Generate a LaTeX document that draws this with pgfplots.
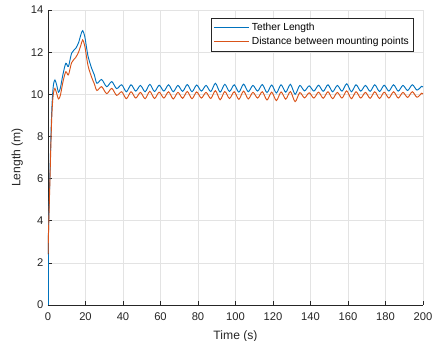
\documentclass[border=0pt]{standalone}
\usepackage{fontspec}
\setmainfont{Liberation Sans}
\usepackage{pgfplots}
\usepackage{pgfplotstable}
\pgfplotsset{compat=1.18}
\definecolor{mblue}{rgb}{0,0.447,0.741}
\definecolor{morange}{rgb}{0.85,0.325,0.098}
\definecolor{axgray}{rgb}{0.15,0.15,0.15}
\pgfplotstableread{
t b r
0 2.4 2.4
0.5 4.4 4.2
1.0 6.1 5.8
1.5 7.8 7.5
2.0 9.2 8.9
2.5 10.05 9.7
3.0 10.5 10.1
3.7 10.68 10.28
4.6 10.45 10.05
5.6 10.1 9.78
6.6 10.3 9.95
8.0 10.95 10.6
9.5 11.47 11.07
10.9 11.32 10.92
12.6 11.95 11.5
14.8 12.18 11.75
16.3 12.45 12.0
17.6 12.85 12.35
18.5 13.02 12.58
19.6 12.75 12.3
20.5 12.25 11.8
21.5 11.75 11.3
23.3 11.23 10.8
24.7 10.92 10.5
26.1 10.52 10.18
28.6 10.7 10.36
31.3 10.36 10.03
34.0 10.6 10.28
36.6 10.27 9.95
39.3 10.45 10.12
41.8 10.12 9.79
44.3 10.45 10.12
46.8 10.15 9.82
49.3 10.42 10.09
51.8 10.12 9.79
54.3 10.47 10.14
56.8 10.13 9.80
59.3 10.43 10.10
61.8 10.15 9.82
64.3 10.45 10.12
66.8 10.12 9.78
69.3 10.42 10.09
71.8 10.14 9.81
74.3 10.46 10.13
76.8 10.12 9.79
79.3 10.44 10.11
81.8 10.15 9.82
84.3 10.42 10.09
86.8 10.13 9.80
89.3 10.52 10.17
91.8 10.10 9.74
94.3 10.47 10.13
96.8 10.13 9.80
99.3 10.45 10.12
101.8 10.10 9.76
104.3 10.48 10.15
106.8 10.12 9.78
109.3 10.42 10.09
111.8 10.15 9.82
114.3 10.46 10.12
116.8 10.08 9.73
119.3 10.44 10.10
121.8 10.06 9.70
124.3 10.45 10.11
126.8 10.10 9.77
129.3 10.47 10.13
131.8 10.00 9.65
134.3 10.42 10.08
136.8 10.16 9.83
139.3 10.40 10.07
141.8 10.15 9.82
144.3 10.43 10.10
146.8 10.14 9.81
149.3 10.45 10.12
151.8 10.12 9.79
154.3 10.42 10.09
156.8 10.15 9.82
159.3 10.50 10.16
161.8 10.12 9.79
164.3 10.45 10.12
166.8 10.15 9.82
169.3 10.42 10.09
171.8 10.14 9.81
174.3 10.45 10.12
176.8 10.13 9.80
179.3 10.43 10.10
181.8 10.15 9.82
184.3 10.45 10.12
186.8 10.15 9.82
189.3 10.42 10.09
191.8 10.18 9.85
194.3 10.45 10.12
196.8 10.20 9.86
199.3 10.38 10.05
200 10.35 10.02
}\data
\begin{document}
\begin{tikzpicture}
\useasboundingbox (-36pt,-27pt) rectangle (288pt,228.75pt);
\begin{axis}[
  scale only axis,
  width=281.25pt, height=221.25pt,
  xmin=0, xmax=200, ymin=0, ymax=14,
  xtick={0,20,...,200}, ytick={0,2,...,14},
  axis x line*=bottom, axis y line*=left,
  axis line style={axgray, line width=0.5pt},
  tick align=inside, major tick length=3pt,
  tick style={axgray, line width=0.5pt},
  grid=major, grid style={gray!22, line width=0.5pt},
  ticklabel style={font=\fontsize{8.4}{9}\selectfont, text=axgray},
  xticklabel style={yshift=-2pt},
  /pgf/number format/assume math mode=true,
  label style={font=\fontsize{9.1}{10}\selectfont, text=axgray},
  xlabel={Time (s)}, ylabel={Length (m)},
  xlabel style={yshift=-1pt},
  ylabel style={yshift=-1pt},
  legend style={at={(0.976,0.973)}, anchor=north east, draw=axgray, fill=white,
    line width=0.5pt, font=\fontsize{7.7}{8.6}\selectfont, text=black,
    inner sep=1.6pt, row sep=-0.5pt},
  legend cell align=left,
  legend image code/.code={\draw[#1, line width=0.7pt] (0pt,0pt) -- (26pt,0pt);},
]
\addplot[mblue, line width=0.7pt, forget plot] coordinates {(0,0) (0,2.4)};
\addplot[mblue, line width=0.7pt, smooth, tension=0.5] table[x=t, y=b] {\data};
\addlegendentry{Tether Length}
\addplot[morange, line width=0.7pt, smooth, tension=0.5] table[x=t, y=r] {\data};
\addlegendentry{Distance between mounting points}
\end{axis}
\end{tikzpicture}
\end{document}
